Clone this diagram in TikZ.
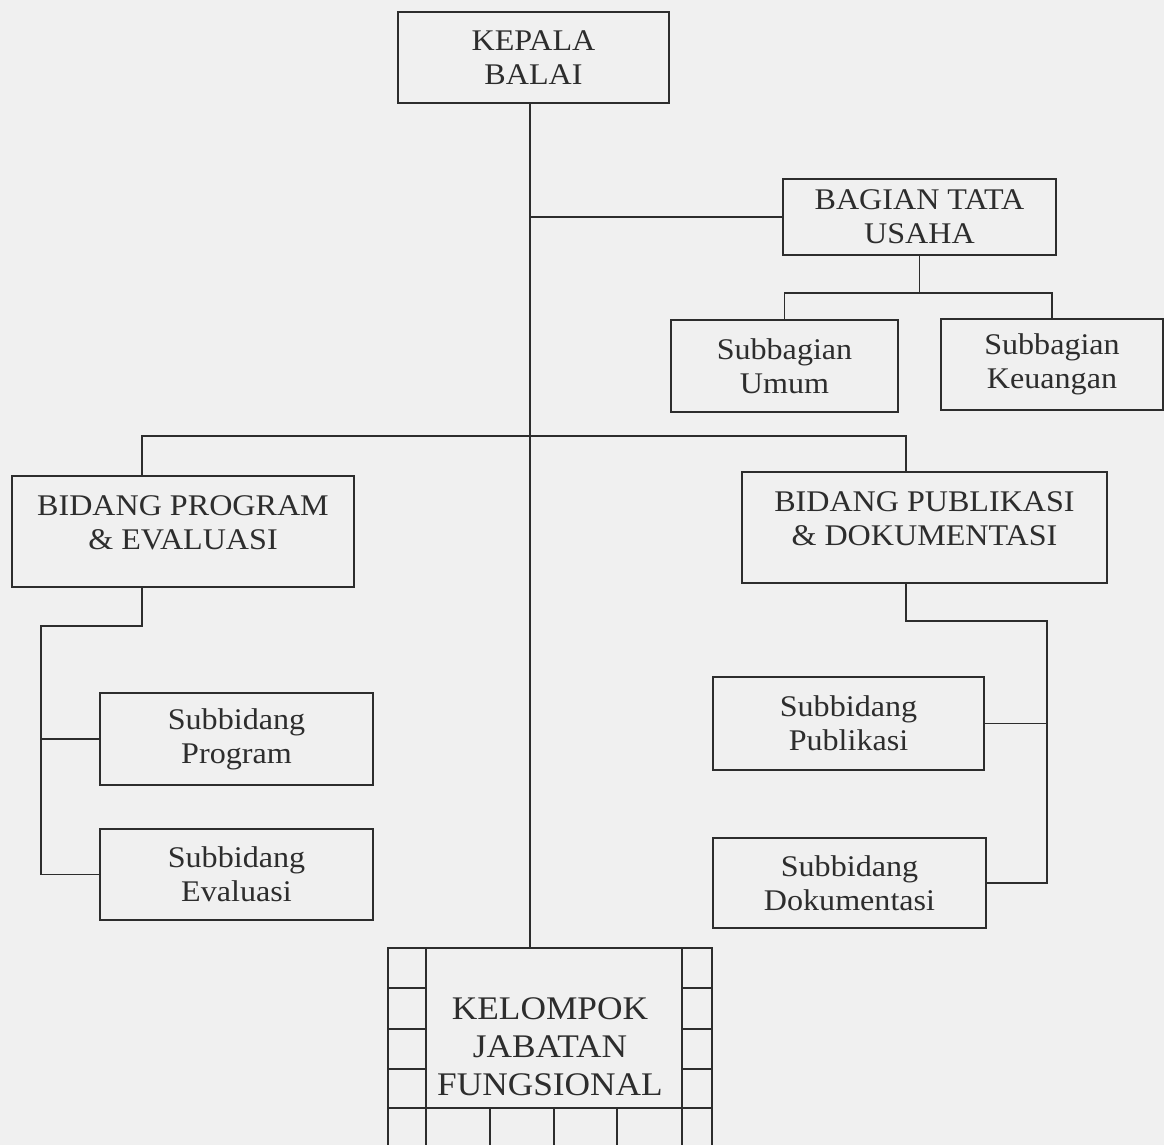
\documentclass[tikz,border=0pt]{standalone}
\usepackage{fontspec}
\setmainfont{Liberation Serif}[FakeStretch=1.07]
\usetikzlibrary{calc}
\definecolor{bg}{RGB}{240,240,240}
\definecolor{ink}{RGB}{45,45,45}
\begin{document}
\begin{tikzpicture}[x=1pt,y=-1pt,
  box/.style={draw=ink, line width=1.9pt, rectangle, inner sep=0pt, align=center,
    font=\fontsize{30}{34}\selectfont, text=ink},
  txt/.style={align=center, inner sep=0pt, font=\fontsize{30}{34}\selectfont, text=ink},
  bigtxt/.style={align=center, inner sep=0pt, font=\fontsize{33}{38}\selectfont, text=ink},
  link/.style={draw=ink, line width=1.9pt}]
\fill[bg] (0,0) rectangle (1164,1145);
\useasboundingbox (0,0) rectangle (1164,1145);

% boxes
\node[box, minimum width=271, minimum height=91] (kb) at (533.5,57.5) {KEPALA\\BALAI};
\node[box, minimum width=273, minimum height=76] (btu) at (919.5,217) {BAGIAN TATA\\USAHA};
\node[box, minimum width=227, minimum height=92] (su) at (784.5,366) {Subbagian\\Umum};
\node[box, minimum width=222, minimum height=91] (sk) at (1052,364.5) {Subbagian\\Keuangan};
\node[box, minimum width=342, minimum height=111] (bpe) at (183,531.5) {};
\node[txt] (bpet) at ($(bpe.center)+(0,-9)$) {BIDANG PROGRAM\\\&~EVALUASI};
\node[box, minimum width=365, minimum height=111] (bpd) at (924.5,527.5) {};
\node[txt] (bpdt) at ($(bpd.center)+(0,-9)$) {BIDANG PUBLIKASI\\\&~DOKUMENTASI};
\node[box, minimum width=273, minimum height=92] (sp) at (236.5,739) {Subbidang\\Program};
\node[box, minimum width=273, minimum height=91] (se) at (236.5,874.5) {Subbidang\\Evaluasi};
\node[box, minimum width=271, minimum height=93] (spub) at (848.5,723.5) {Subbidang\\Publikasi};
\node[box, minimum width=273, minimum height=90] (sdok) at (849.5,883) {Subbidang\\Dokumentasi};
\node[bigtxt, minimum width=324, minimum height=197] (kel) at (550,1046.5) {KELOMPOK\\JABATAN\\FUNGSIONAL};

% trunk
\coordinate (t) at (530,0);
\draw[link] (kb.south -| t) -- (kel.north -| t);
\draw[link] (btu.west) -- (btu.west -| t);

% tata usaha branch
\coordinate (bj) at ($(btu.south)+(0,37)$);
\draw[link] (btu.south) -- (bj);
\draw[link] (su.north) |- (bj) -| (sk.north);

% bidang branch
\coordinate (bpeN) at ($(bpe.north west)!0.38!(bpe.north east)$);
\coordinate (bpdN) at ($(bpd.north west)!0.449!(bpd.north east)$);
\draw[link] (bpeN) -- ++(0,-39) -| (bpdN);

% program & evaluasi
\coordinate (bpeS) at ($(bpe.south west)!0.38!(bpe.south east)$);
\draw[link] (bpeS) -- ++(0,38) -| ([xshift=-58pt]se.west) -- (se.west);
\draw[link] (sp.west) -- ++(-58,0);

% publikasi & dokumentasi
\coordinate (bpdS) at ($(bpd.south west)!0.449!(bpd.south east)$);
\draw[link] (bpdS) -- ++(0,37) -| ([xshift=60pt]sdok.east) -- (sdok.east);
\draw[link] (spub.east) -- ++(62,0);

% kelompok jabatan fungsional frame
\draw[link] (kel.south west) -- (kel.north west) -- (kel.north east) -- (kel.south east);
\draw[link] ($(kel.north west)+(38,0)$) -- ($(kel.south west)+(38,0)$);
\draw[link] ($(kel.north east)+(-30,0)$) -- ($(kel.south east)+(-30,0)$);
\draw[link] ($(kel.north west)+(0,160)$) -- ($(kel.north east)+(0,160)$);
\foreach \d in {40,81,121} {
  \draw[link] ($(kel.north west)+(0,\d)$) -- ++(38,0);
  \draw[link] ($(kel.north east)+(0,\d)$) -- ++(-30,0);
}
\foreach \d in {102,166,229} {
  \draw[link] ($(kel.south west)+(\d,0)$) -- ++(0,-37);
}
\end{tikzpicture}
\end{document}
